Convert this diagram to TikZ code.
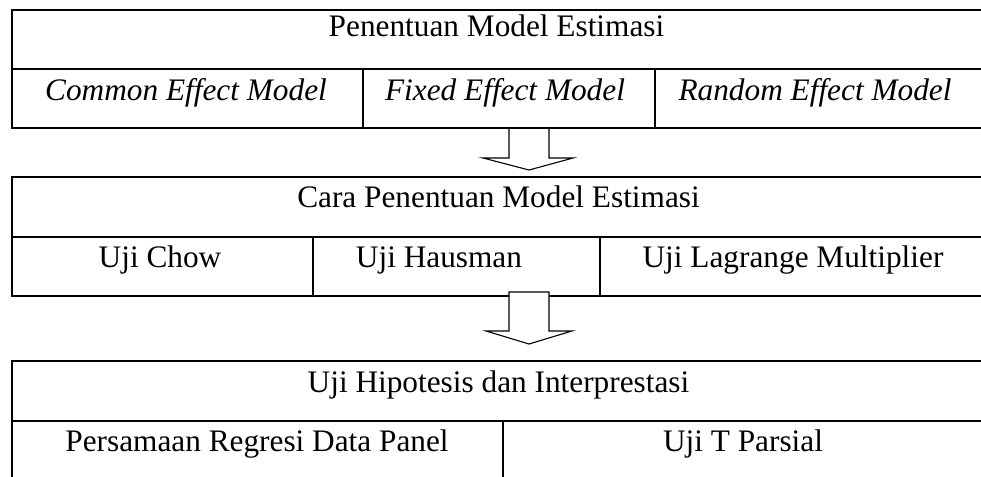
\documentclass[tikz,border=0pt]{standalone}
\usepackage{fontspec}
\setmainfont{Liberation Serif}
\usetikzlibrary{calc}
\begin{document}
\begin{tikzpicture}[x=1pt,y=-1pt,
  rule/.style={line width=2pt},
  celltext/.style={anchor=base, inner sep=0pt, font=\fontsize{31.3}{36}\selectfont},
  modeltext/.style={celltext, font=\fontsize{31.3}{36}\selectfont\itshape},
  blockarrow/.style={draw, fill=white, line width=1.1pt, line join=miter}]
\useasboundingbox (0,0) rectangle (981,476);

% ---- table 1: estimation models
\draw[rule] (12,10) -- (990,10);
\draw[rule] (12,69) -- (990,69);
\draw[rule] (12,128) -- (990,128);
\draw[rule] (12,9) -- (12,129);
\draw[rule] (363,69) -- (363,128);
\draw[rule] (655,69) -- (655,128);
\node[celltext] (t1) at (496.5,37) {Penentuan Model Estimasi};
\node[modeltext] (cem) at (186,100) {Common Effect Model};
\node[modeltext] (fem) at (505,100) {Fixed Effect Model};
\node[modeltext] (rem) at (815,100) {Random Effect Model};

% ---- table 2: selection tests
\draw[rule] (12,177) -- (990,177);
\draw[rule] (12,237) -- (990,237);
\draw[rule] (12,296) -- (990,296);
\draw[rule] (12,176) -- (12,297);
\draw[rule] (313,237) -- (313,296);
\draw[rule] (600,237) -- (600,296);
\node[celltext] (t2) at (498.5,207) {Cara Penentuan Model Estimasi};
\node[celltext] (chow) at (160,267) {Uji Chow};
\node[celltext] (haus) at (439,267) {Uji Hausman};
\node[celltext] (lm) at (793,267) {Uji Lagrange Multiplier};

% ---- table 3: hypothesis testing
\draw[rule] (12,361) -- (990,361);
\draw[rule] (12,421) -- (990,421);
\draw[rule] (12,360) -- (12,490);
\draw[rule] (503,421) -- (503,490);
\node[celltext] (t3) at (498.5,392) {Uji Hipotesis dan Interprestasi};
\node[celltext] (reg) at (257,451) {Persamaan Regresi Data Panel};
\node[celltext] (tpar) at (743,451) {Uji T Parsial};

% ---- block arrows between the tables
\coordinate (a1) at (529,129);
\coordinate (a2) at (529,292);
\draw[blockarrow] ($(a1)+(-20,0)$) -- ($(a1)+(-20,29)$) -- ($(a1)+(-46,29)$)
  -- ($(a1)+(0,41)$) -- ($(a1)+(44,29)$) -- ($(a1)+(20,29)$) -- ($(a1)+(20,0)$);
\draw[blockarrow] ($(a2)+(-20,0)$) -- ($(a2)+(-20,39)$) -- ($(a2)+(-43,39)$)
  -- ($(a2)+(0,52)$) -- ($(a2)+(43,39)$) -- ($(a2)+(20,39)$) -- ($(a2)+(20,0)$) -- cycle;
\end{tikzpicture}
\end{document}
